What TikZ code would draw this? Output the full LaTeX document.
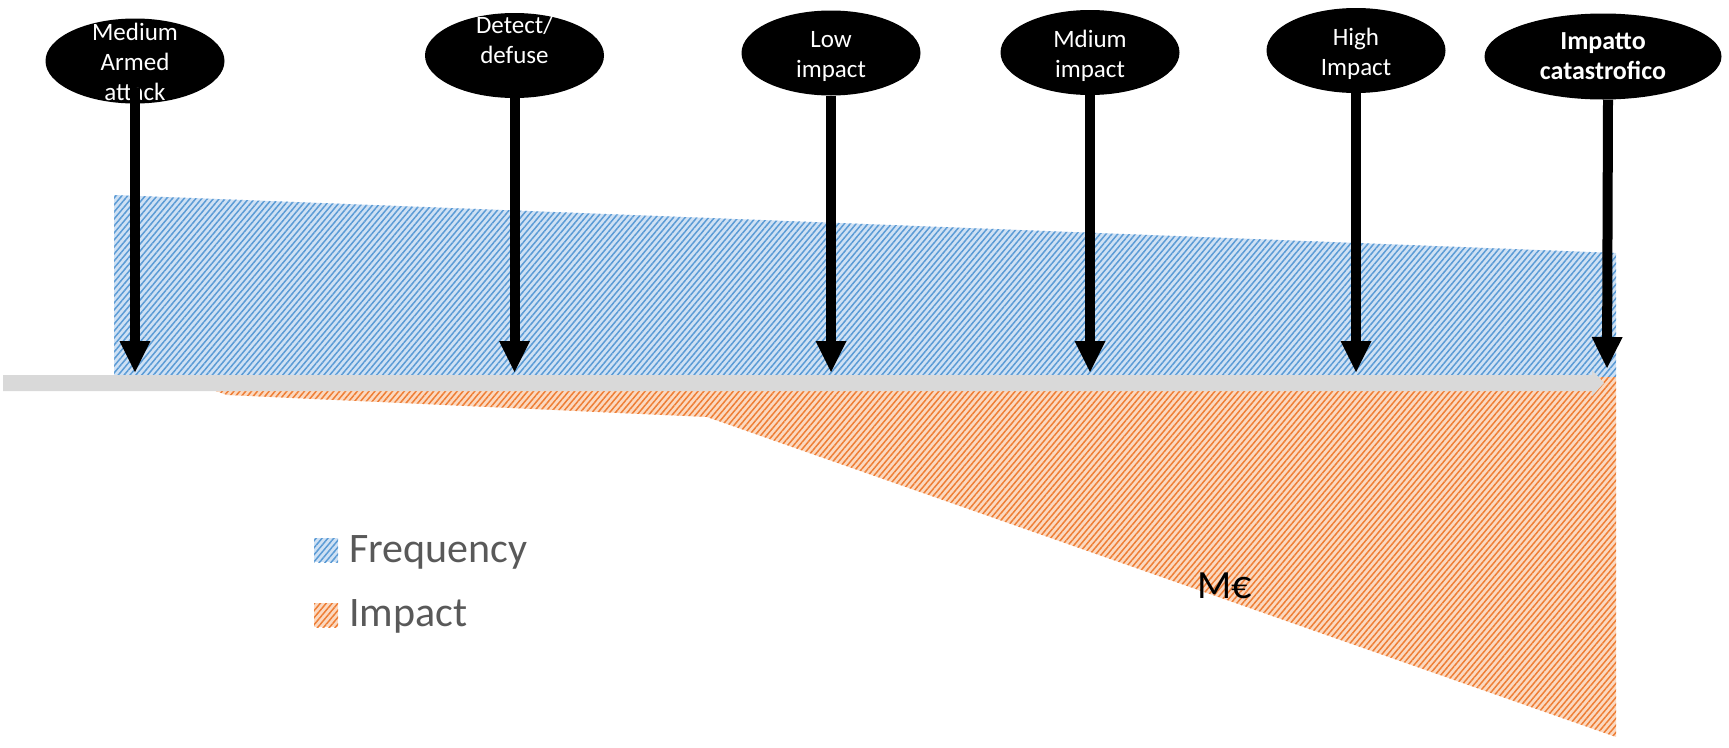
\documentclass[tikz,border=0pt]{standalone}
\usepackage{fontspec}
\setmainfont{Carlito}
\usetikzlibrary{shapes.geometric,arrows.meta,patterns.meta}
\definecolor{fbg}{HTML}{CFE1F4}
\definecolor{fln}{HTML}{5B9BD5}
\definecolor{obg}{HTML}{FBD9C1}
\definecolor{oln}{HTML}{EE7E35}
\definecolor{axisgray}{HTML}{D9D9D9}
\definecolor{legtext}{HTML}{595959}
\tikzset{
  freqfill/.style={preaction={fill=fbg}, pattern={Lines[angle=50,distance=4.5pt,line width=1.5pt]}, pattern color=fln},
  impfill/.style={preaction={fill=obg}, pattern={Lines[angle=50,distance=4.5pt,line width=1.5pt]}, pattern color=oln},
  oval/.style={ellipse, fill=black, minimum width=179pt, minimum height=85pt, inner sep=0pt},
  ovaltext/.style={text=white, align=center, inner sep=0pt, font=\fontsize{25}{30}\selectfont},
  pointer/.style={line width=10pt, -{Triangle[width=31pt,length=31pt,line width=0pt]}},
  legtxt/.style={text=legtext, anchor=base west, inner sep=0pt, font=\fontsize{42}{50}\selectfont},
  keybox/.style={minimum size=24pt, inner sep=0pt},
}
\begin{document}
\begin{tikzpicture}[x=1pt,y=-1pt]
\useasboundingbox (0,0) rectangle (1729,747);

% areas
\path[freqfill] (114,195) -- (1616,253) -- (1616,377) -- (114,377) -- cycle;
\path[impfill] (213,383) -- (1616,377) -- (1616,737) -- (707,417) -- (227,395) -- (213,390) -- cycle;

% axis
\fill[axisgray] (3,375) -- (1592,375) -- (1592,370) -- (1604,383) -- (1592,396) -- (1592,391) -- (3,391) -- cycle;

% ellipses
\node[oval] (e1) at (135,61) {};
\node[oval] (e2) at (514.5,55.5) {};
\node[oval] (e3) at (831,53) {};
\node[oval] (e4) at (1090,52.5) {};
\node[oval] (e5) at (1356,50.5) {};
\node[oval, minimum width=237pt, minimum height=86pt] (e6) at (1603,56.5) {};

\node[ovaltext] (l1) at (135,61.6) {Medium\\Armed\\attack};
\node[ovaltext] (l2) at (514.5,40) {Detect/\\defuse};
\node[ovaltext] (l3) at (831,56) {Low\\impact};
\node[ovaltext] (l4) at (1090,56) {Mdium\\impact};
\node[ovaltext] (l5) at (1356,54.3) {High\\Impact};
\node[ovaltext, font=\bfseries\fontsize{26}{30}\selectfont] (l6) at (1603,56) {Impatto\\catastrofico};

% arrow ends
\coordinate (t1) at (135,372);
\coordinate (t2) at (514.5,372);
\coordinate (t3) at (831,372);
\coordinate (t4) at (1090,372);
\coordinate (t5) at (1356,372);
\coordinate (t6) at (1607,368);

\draw[pointer] ([yshift=16pt]e1.south) -- (t1);
\draw[pointer] (e2.south) -- (t2);
\draw[pointer] (e3.south) -- (t3);
\draw[pointer] (e4.south) -- (t4);
\draw[pointer] (e5.south) -- (t5);
\draw[pointer] ([xshift=5pt]e6.south) -- (t6);

% legend
\node[keybox, freqfill] (k1) at (326,550) {};
\node[legtxt] (lf) at (349,562) {Frequency};
\node[keybox, impfill] (k2) at (326,615) {};
\node[legtxt] (li) at (349,626) {Impact};

\node[anchor=base west, inner sep=0pt, font=\fontsize{40}{48}\selectfont] (m) at (1197,598) {M€};
\end{tikzpicture}
\end{document}
